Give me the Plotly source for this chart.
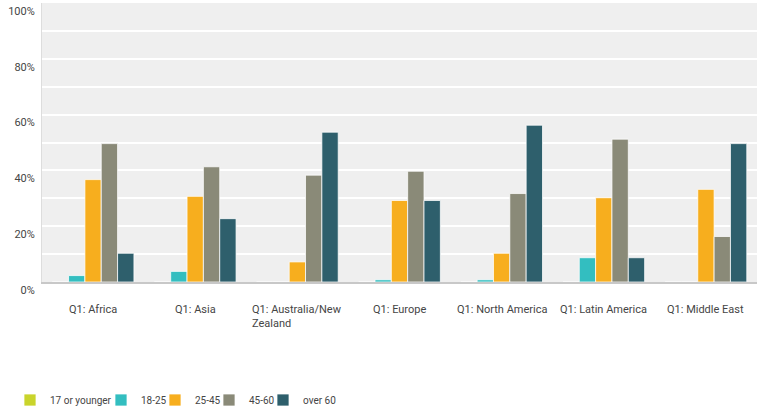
import plotly.graph_objects as go

categories = ["Q1: Africa", "Q1: Asia", "Q1: Australia/New<br>Zealand", "Q1: Europe",
              "Q1: North America", "Q1: Latin America", "Q1: Middle East"]
series_names = ["17 or younger", "18-25", "25-45", "45-60", "over 60"]
v_17_or_younger = [0, 0, 0, 0, 0, 0, 0]
v_18_25 = [2.3, 3.8, 0, 0.8, 0.8, 8.7, 0]
v_25_45 = [36.7, 30.7, 7.2, 29.2, 10.3, 30.2, 33.2]
v_45_60 = [49.6, 41.3, 38.3, 39.7, 31.7, 51.2, 16.3]
v_over_60 = [10.3, 22.7, 53.7, 29.2, 56.2, 8.7, 49.6]
y_tick_vals = [0, 20, 40, 60, 80, 100]
y_tick_text = ["0%", "20%", "40%", "60%", "80%", "100%"]

colors = ["#c9d42b", "#33bec0", "#f7ae1e", "#8a8a78", "#2e5f6c"]
values = [v_17_or_younger, v_18_25, v_25_45, v_45_60, v_over_60]

W, H = 758, 411
# legend text start (px) -> legend left = text - 40, in container coordinates
legend_text_px = [50, 141, 195, 249, 303]
legend_x = [(t - 40) / W for t in legend_text_px]
legend_y = (H - 400) / H

FONT = "Roboto, Liberation Sans, Arial, sans-serif"
TXT = "#454545"

fig = go.Figure()
xs = list(range(len(categories)))
for k, (name, vals, col) in enumerate(zip(series_names, values, colors)):
    fig.add_trace(go.Bar(
        x=xs, y=vals, name=name,
        legend="legend" if k == 0 else "legend%d" % (k + 1),
        marker=dict(color=col, line=dict(color="rgba(255,255,255,0.75)", width=1)),
    ))

for i, c in enumerate(categories):
    fig.add_annotation(x=i, y=0, xref="x", yref="paper", yanchor="top", xanchor="center",
                       yshift=-19, text=c, showarrow=False, align="left",
                       font=dict(family=FONT, size=11, color=TXT))

legend_common = dict(orientation="h", xanchor="left", yanchor="middle",
                     xref="container", yref="container", y=legend_y,
                     font=dict(family=FONT, size=10, color=TXT), itemwidth=30,
                     bgcolor="rgba(0,0,0,0)", borderwidth=0)
legends = {}
for k, lx in enumerate(legend_x):
    key = "legend" if k == 0 else "legend%d" % (k + 1)
    legends[key] = dict(legend_common, x=lx)

fig.update_layout(
    width=W, height=H,
    margin=dict(l=42, r=1, t=3, b=129),
    paper_bgcolor="white",
    plot_bgcolor="#efefef",
    barmode="group",
    bargap=0.2,
    bargroupgap=0.0,
    font=dict(family=FONT, size=11, color=TXT),
    showlegend=True,
    **legends,
)
fig.update_xaxes(range=[-0.5, len(categories) - 0.5], showticklabels=False, showgrid=False,
                 zeroline=False, showline=True, linecolor="#c8c8c8", linewidth=1.5, ticks="",
                 automargin=False)
fig.update_yaxes(range=[0, 100], tickvals=y_tick_vals, ticktext=y_tick_text,
                 ticklabelshift=8, ticklabelstandoff=4,
                 showgrid=True, gridcolor="white", gridwidth=1.5,
                 minor=dict(dtick=10, showgrid=True, gridcolor="white", gridwidth=1.5),
                 zeroline=False, showline=True, linecolor="#dddddd", linewidth=1,
                 automargin=False,
                 tickfont=dict(family=FONT, size=11, color=TXT))

fig.write_html("out.html", config={"displayModeBar": False},
               post_script="document.body.style.margin='0px';")
